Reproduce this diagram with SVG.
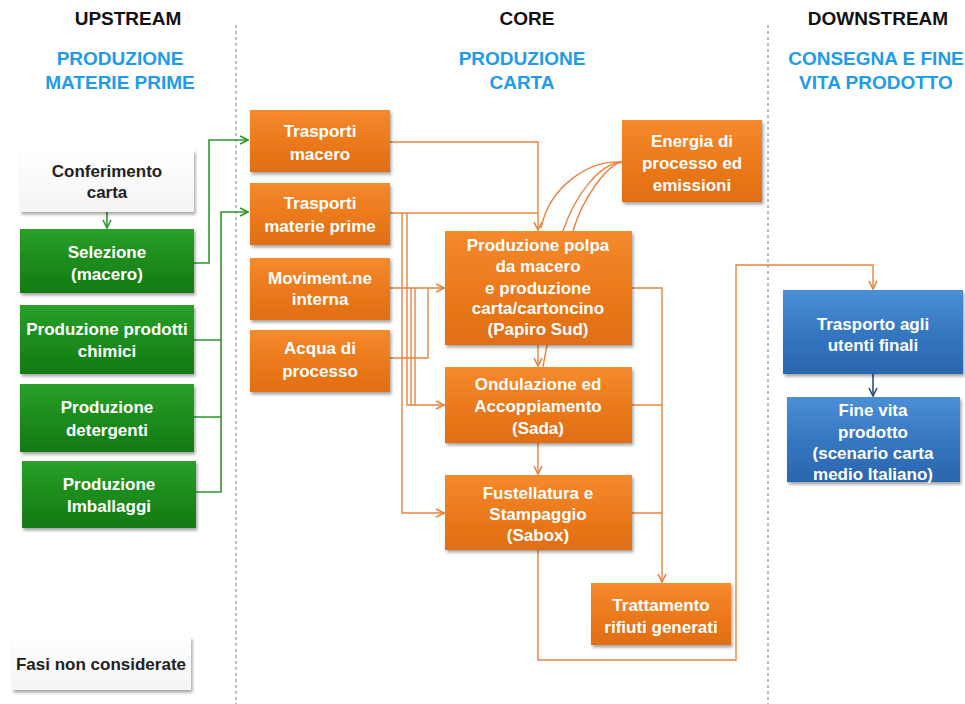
<svg xmlns="http://www.w3.org/2000/svg" width="965" height="704" viewBox="0 0 965 704">
<defs>
<linearGradient id="gOr" x1="0" y1="0" x2="0" y2="1"><stop offset="0" stop-color="#F58A2E"/><stop offset="0.5" stop-color="#EC7A1C"/><stop offset="1" stop-color="#E06E12"/></linearGradient>
<linearGradient id="gGr" x1="0" y1="0" x2="0" y2="1"><stop offset="0" stop-color="#2AA02A"/><stop offset="0.5" stop-color="#1C8C1C"/><stop offset="1" stop-color="#157A15"/></linearGradient>
<linearGradient id="gBl" x1="0" y1="0" x2="0" y2="1"><stop offset="0" stop-color="#4B8FD6"/><stop offset="0.5" stop-color="#3677C2"/><stop offset="1" stop-color="#2A66AE"/></linearGradient>
<linearGradient id="gWh" x1="0" y1="0" x2="0" y2="1"><stop offset="0" stop-color="#FFFFFF"/><stop offset="1" stop-color="#F4F4F4"/></linearGradient>
<filter id="sh" x="-10%" y="-10%" width="130%" height="140%"><feDropShadow dx="1.5" dy="2.5" stdDeviation="1.8" flood-color="#000" flood-opacity="0.35"/></filter>
<marker id="aO" viewBox="0 0 10 10" refX="9" refY="5" markerWidth="10" markerHeight="10" markerUnits="userSpaceOnUse" orient="auto"><path d="M1,1 L9,5 L1,9" fill="none" stroke="#E8833F" stroke-width="1.6"/></marker>
<marker id="aG" viewBox="0 0 10 10" refX="9" refY="5" markerWidth="10" markerHeight="10" markerUnits="userSpaceOnUse" orient="auto"><path d="M1,1 L9,5 L1,9" fill="none" stroke="#2E962E" stroke-width="1.6"/></marker>
<marker id="aB" viewBox="0 0 10 10" refX="9" refY="5" markerWidth="10" markerHeight="10" markerUnits="userSpaceOnUse" orient="auto"><path d="M1,1 L9,5 L1,9" fill="none" stroke="#2B4F7E" stroke-width="1.6"/></marker>
</defs>
<style>
text{font-family:"Liberation Sans",Arial,sans-serif;font-weight:bold;text-anchor:middle}
.h{font-size:19px;fill:#111}
.s{font-size:19px;fill:#1E9BEA}
.t{font-size:17px;fill:#fff}
.d{font-size:17px;fill:#222}
.or{fill:url(#gOr);filter:url(#sh)}
.gr{fill:url(#gGr);filter:url(#sh)}
.bl{fill:url(#gBl);filter:url(#sh)}
.wh{fill:url(#gWh);filter:url(#sh)}
.co{fill:none;stroke:#E8833F;stroke-width:1.4}
.cg{fill:none;stroke:#2E962E;stroke-width:1.6}
.cb{fill:none;stroke:#2B4F7E;stroke-width:1.6}
.dash{stroke:#AAAAAA;stroke-width:1.5;stroke-dasharray:3,3}
</style>
<rect width="965" height="704" fill="#fff"/>
<g id="dividers">
<line class="dash" x1="236" y1="25" x2="236" y2="704"/>
<line class="dash" x1="768" y1="25" x2="768" y2="704"/>
</g>
<g id="headers">
<text class="h" x="128" y="25">UPSTREAM</text>
<text class="h" x="527" y="25">CORE</text>
<text class="h" x="878" y="25">DOWNSTREAM</text>
<text class="s" x="120" y="65">PRODUZIONE</text>
<text class="s" x="120" y="89">MATERIE PRIME</text>
<text class="s" x="522" y="65">PRODUZIONE</text>
<text class="s" x="522" y="89">CARTA</text>
<text class="s" x="876" y="65">CONSEGNA E FINE</text>
<text class="s" x="876" y="89">VITA PRODOTTO</text>
</g>
<g id="connectors">
<path class="cg" d="M107,212 V228" marker-end="url(#aG)"/>
<path class="cg" d="M194,263 H209 V140 H248" marker-end="url(#aG)"/>
<path class="cg" d="M194,340 H221 M194,417 H221 M196,492 H221 V212 H248" marker-end="url(#aG)"/>
<path class="co" d="M390,142 H538 V230" marker-end="url(#aO)"/>
<path class="co" d="M390,213 H538"/>
<path class="co" d="M402,213 V513 H444" marker-end="url(#aO)"/>
<path class="co" d="M407,213 V405 H444" marker-end="url(#aO)"/>
<path class="co" d="M411,288 V405"/>
<path class="co" d="M415,288 V405"/>
<path class="co" d="M390,288 H444" marker-end="url(#aO)"/>
<path class="co" d="M390,358 H428 V288"/>
<path class="co" d="M622,162 C590,160 550,185 541,228"/>
<path class="co" d="M622,162 C600,163 575,195 563,231"/>
<path class="co" d="M622,162 C606,165 582,200 573,231"/>
<path class="co" d="M547,345 L543,367"/>
<path class="co" d="M538,345 V366" marker-end="url(#aO)"/>
<path class="co" d="M538,443 V474" marker-end="url(#aO)"/>
<path class="co" d="M632,288 H662 V582" marker-end="url(#aO)"/>
<path class="co" d="M632,405 H662 M632,513 H662"/>
<path class="co" d="M538,550 V660 H736 V265 H873 V289" marker-end="url(#aO)"/>
<path class="cb" d="M873,374 V396" marker-end="url(#aB)"/>
</g>
<g id="n-conferimento"><rect class="wh" x="20" y="150" width="174" height="62"/><text class="d" x="107" y="177">Conferimento</text><text class="d" x="107" y="198">carta</text></g>
<g id="n-selezione"><rect class="gr" x="20" y="229" width="174" height="64"/><text class="t" x="107" y="258">Selezione</text><text class="t" x="107" y="280">(macero)</text></g>
<g id="n-chimici"><rect class="gr" x="20" y="305" width="174" height="69"/><text class="t" x="107" y="335">Produzione prodotti</text><text class="t" x="107" y="357">chimici</text></g>
<g id="n-detergenti"><rect class="gr" x="20" y="384" width="174" height="68"/><text class="t" x="107" y="413">Produzione</text><text class="t" x="107" y="436">detergenti</text></g>
<g id="n-imballaggi"><rect class="gr" x="22" y="461" width="174" height="67"/><text class="t" x="109" y="490">Produzione</text><text class="t" x="109" y="512">Imballaggi</text></g>
<g id="n-fasi"><rect class="wh" x="12" y="637" width="179" height="53"/><text class="d" x="101" y="670">Fasi non considerate</text></g>
<g id="n-trasp-macero"><rect class="or" x="250" y="110" width="140" height="62"/><text class="t" x="320" y="137">Trasporti</text><text class="t" x="320" y="160">macero</text></g>
<g id="n-trasp-materie"><rect class="or" x="250" y="183" width="140" height="62"/><text class="t" x="320" y="209">Trasporti</text><text class="t" x="320" y="232">materie prime</text></g>
<g id="n-moviment"><rect class="or" x="250" y="258" width="140" height="62"/><text class="t" x="320" y="284">Moviment.ne</text><text class="t" x="320" y="305">interna</text></g>
<g id="n-acqua"><rect class="or" x="250" y="330" width="140" height="62"/><text class="t" x="320" y="354">Acqua di</text><text class="t" x="320" y="377">processo</text></g>
<g id="n-polpa"><rect class="or" x="445" y="231" width="187" height="114"/><text class="t" x="538" y="251">Produzione polpa</text><text class="t" x="538" y="272">da macero</text><text class="t" x="538" y="294">e produzione</text><text class="t" x="538" y="314">carta/cartoncino</text><text class="t" x="538" y="335">(Papiro Sud)</text></g>
<g id="n-ondulazione"><rect class="or" x="445" y="367" width="187" height="76"/><text class="t" x="538" y="390">Ondulazione ed</text><text class="t" x="538" y="412">Accoppiamento</text><text class="t" x="538" y="434">(Sada)</text></g>
<g id="n-fustellatura"><rect class="or" x="445" y="475" width="187" height="75"/><text class="t" x="538" y="499">Fustellatura e</text><text class="t" x="538" y="520">Stampaggio</text><text class="t" x="538" y="541">(Sabox)</text></g>
<g id="n-energia"><rect class="or" x="622" y="120" width="140" height="82"/><text class="t" x="692" y="147">Energia di</text><text class="t" x="692" y="169">processo ed</text><text class="t" x="692" y="191">emissioni</text></g>
<g id="n-trattamento"><rect class="or" x="591" y="583" width="140" height="62"/><text class="t" x="661" y="611">Trattamento</text><text class="t" x="661" y="633">rifiuti generati</text></g>
<g id="n-trasporto"><rect class="bl" x="783" y="290" width="180" height="84"/><text class="t" x="873" y="330">Trasporto agli</text><text class="t" x="873" y="351">utenti finali</text></g>
<g id="n-finevita"><rect class="bl" x="787" y="397" width="173" height="85"/><text class="t" x="873" y="416">Fine vita</text><text class="t" x="873" y="438">prodotto</text><text class="t" x="873" y="459">(scenario carta</text><text class="t" x="873" y="480">medio Italiano)</text></g>
</svg>
